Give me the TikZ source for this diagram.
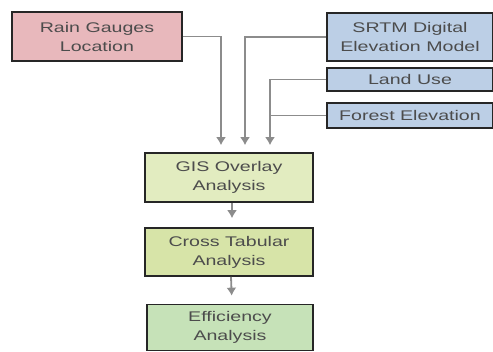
\documentclass[tikz,border=0pt]{standalone}
\usepackage{fontspec}
\setmainfont{Liberation Sans}[FakeStretch=1.4]
\usepackage{xcolor}
\usepackage{tikz}
\usetikzlibrary{arrows.meta}
\definecolor{rainpink}{HTML}{E8B8BC}
\definecolor{demblue}{HTML}{BCCFE6}
\definecolor{gisgreen}{HTML}{E2ECC0}
\definecolor{crossgreen}{HTML}{D7E4A8}
\definecolor{effgreen}{HTML}{C6E2B8}
\definecolor{flowgray}{HTML}{8C8C8C}

\tikzset{
  box/.style={draw=black!85,line width=1.7pt,align=center,inner sep=0pt,
    text=black!70,font=\fontsize{14}{19}\selectfont},
  flow/.style={draw=flowgray,line width=1.8pt,-{Latex[length=8pt,width=10pt]},shorten >=7pt},
  link/.style={draw=flowgray,line width=1.8pt}
}

\begin{document}
\begin{tikzpicture}[x=1pt,y=-1pt]
\useasboundingbox (0,0) rectangle (493,351);
% inputs
\node[box,fill=rainpink,minimum width=170pt,minimum height=49pt](rain)at(97,36.5){Rain Gauges\\Location};
\node[box,fill=demblue,minimum width=166pt,minimum height=48pt](srtm)at(410,37){SRTM Digital\\Elevation Model};
\node[box,fill=demblue,minimum width=166pt,minimum height=23pt](landuse)at(410,79.5){Land Use};
\node[box,fill=demblue,minimum width=166pt,minimum height=25pt](forest)at(410,115.5){Forest Elevation};
% analysis steps
\node[box,fill=gisgreen,minimum width=168pt,minimum height=49pt](gis)at(229,177.5){GIS Overlay\\Analysis};
\node[box,fill=crossgreen,minimum width=168pt,minimum height=48pt](cross)at(229,252){Cross Tabular\\Analysis};
\node[box,fill=effgreen,minimum width=166pt,minimum height=46pt](eff)at(230,327.5){Efficiency\\Analysis};
% connectors
\coordinate(lu)at([xshift=41pt]gis.north);
\draw[flow](rain.east)-|([xshift=-8pt]gis.north);
\draw[flow](srtm.west)-|([xshift=16pt]gis.north);
\draw[flow](landuse.west)-|(lu);
\draw[link](forest.west)--(forest.west-|lu);
\draw[flow,shorten >=9pt]([xshift=3pt]gis.south)--([xshift=3pt]cross.north);
\draw[flow,shorten >=8pt]([xshift=2pt]cross.south)--([xshift=2pt]eff.north);
\end{tikzpicture}
\end{document}
